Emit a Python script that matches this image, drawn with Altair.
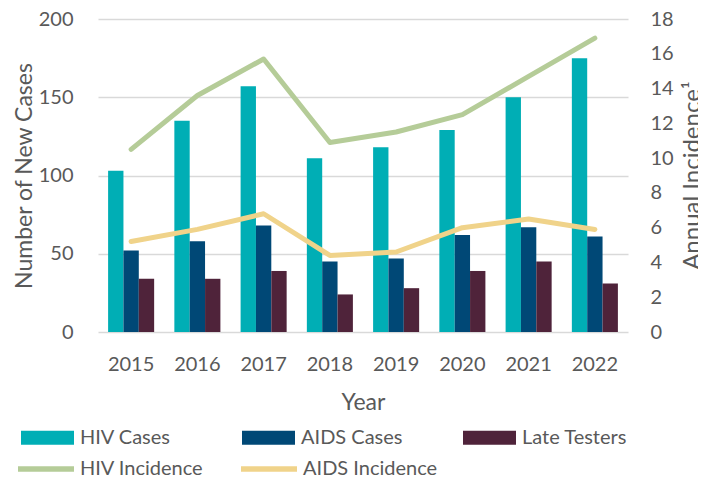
import altair as alt
import pandas as pd

years = ["2015", "2016", "2017", "2018", "2019", "2020", "2021", "2022"]
hiv_cases = [103, 135, 157, 111, 118, 129, 150, 175]
aids_cases = [52, 58, 68, 45, 47, 62, 67, 61]
late_testers = [34, 34, 39, 24, 28, 39, 45, 31]
hiv_incidence = [10.5, 13.6, 15.7, 10.9, 11.5, 12.5, 14.7, 16.9]
aids_incidence = [5.2, 5.9, 6.8, 4.4, 4.6, 6.0, 6.5, 5.9]

bar_series = ["HIV Cases", "AIDS Cases", "Late Testers"]
bar_colors = ["#00AEB5", "#004876", "#4F233A"]
line_series = ["HIV Incidence", "AIDS Incidence"]
line_colors = ["#B5CC98", "#F0D38A"]

FONT = "Lato"
GRAY = "#595959"

bars = pd.DataFrame(
    [(y, s, v) for s, vals in zip(bar_series, [hiv_cases, aids_cases, late_testers])
     for y, v in zip(years, vals)],
    columns=["year", "series", "value"],
)
lines = pd.DataFrame(
    [(y, s, v) for s, vals in zip(line_series, [hiv_incidence, aids_incidence])
     for y, v in zip(years, vals)],
    columns=["year", "series", "value"],
)

xscale = alt.Scale(paddingInner=0.305, paddingOuter=0.1525)
xaxis = alt.Axis(title="Year", labelAngle=0, ticks=False, domain=False, grid=False,
                 labelFontSize=20, titleFontSize=23, labelPadding=22, titlePadding=17,
                 labelColor=GRAY, titleColor=GRAY, labelFont=FONT, titleFont=FONT,
                 titleFontWeight="normal")

bar_chart = alt.Chart(bars).mark_bar().encode(
    x=alt.X("year:N", scale=xscale, axis=xaxis),
    xOffset=alt.XOffset("series:N", sort=bar_series, scale=alt.Scale(paddingInner=0, paddingOuter=0)),
    y=alt.Y("value:Q", scale=alt.Scale(domain=[0, 200]),
            axis=alt.Axis(title="Number of New Cases", values=[0, 50, 100, 150, 200],
                          ticks=False, domain=False, grid=True, gridColor="#D9D9D9",
                          gridWidth=1.5, labelFontSize=20, titleFontSize=23,
                          labelPadding=25, titlePadding=2, labelColor=GRAY,
                          titleColor=GRAY, labelFont=FONT, titleFont=FONT,
                          titleFontWeight="normal")),
    color=alt.Color("series:N", sort=bar_series,
                    scale=alt.Scale(domain=bar_series, range=bar_colors),
                    legend=alt.Legend(title=None, orient="none", legendX=-77, legendY=392,
                                      direction="horizontal", columns=3,
                                      symbolType="M-1,-0.264H1V0.264H-1Z", symbolSize=2809,
                                      symbolOpacity=1, symbolStrokeWidth=0,
                                      labelFontSize=20, labelFont=FONT, labelColor=GRAY,
                                      labelOffset=6, columnPadding=56, gridAlign="all")),
)

line_chart = alt.Chart(lines).mark_line(strokeWidth=5, strokeCap="round", strokeJoin="round").encode(
    x=alt.X("year:N", scale=xscale, axis=xaxis),
    y=alt.Y("value:Q", scale=alt.Scale(domain=[0, 18]),
            axis=alt.Axis(title="Annual Incidence\u00b9", orient="right", titleAngle=270,
                          titleX=64, titleY=156, titleAlign="center", titleBaseline="middle",
                          values=list(range(0, 19, 2)), ticks=False, domain=False, grid=False,
                          labelFontSize=20, titleFontSize=24, labelPadding=22,
                          titlePadding=10, labelColor=GRAY, titleColor=GRAY,
                          labelFont=FONT, titleFont=FONT, titleFontWeight="normal")),
    stroke=alt.Stroke("series:N", sort=line_series,
                      scale=alt.Scale(domain=line_series, range=line_colors),
                      legend=alt.Legend(title=None, orient="none", legendX=-83, legendY=419,
                                        direction="horizontal", columns=3,
                                        symbolType="stroke", symbolSize=3136,
                                        symbolStrokeWidth=5.5,
                                        labelFontSize=20, labelFont=FONT, labelColor=GRAY,
                                        labelOffset=3, columnPadding=15, gridAlign="all")),
)

chart = alt.layer(bar_chart, line_chart).resolve_scale(
    y="independent", color="independent", stroke="independent"
).properties(
    width=530, height=313,
    autosize=alt.AutoSizeParams(type="none"),
    padding={"left": 90, "top": 11, "right": 70, "bottom": 150},
).configure_view(stroke=None)

chart.save("out.html", embed_options={"renderer": "svg", "actions": False})
